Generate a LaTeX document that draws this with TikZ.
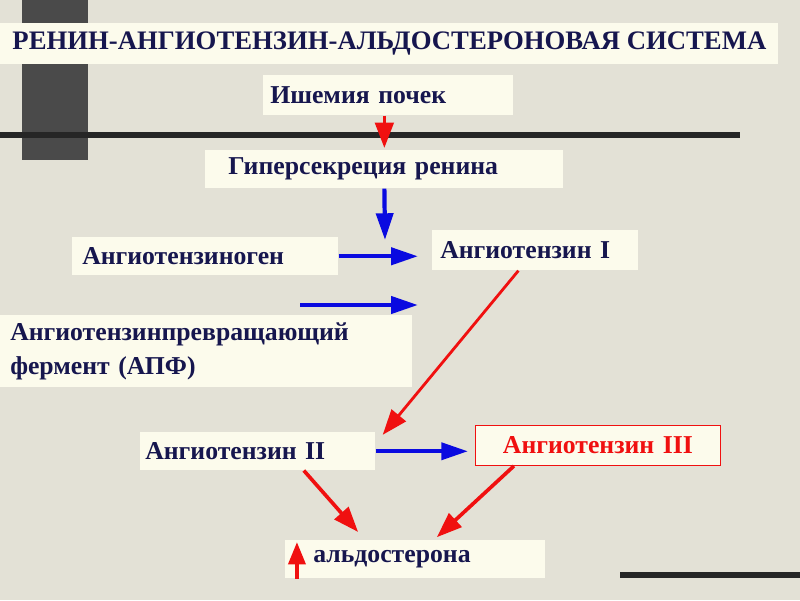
\documentclass[tikz,border=0pt]{standalone}
\usepackage{fontspec}
\setmainfont{Liberation Serif}
\usetikzlibrary{arrows.meta}
\definecolor{ground}{HTML}{E3E1D6}
\definecolor{cream}{HTML}{FCFBEC}
\definecolor{ink}{HTML}{16164E}
\definecolor{bargrey}{HTML}{4A4A4A}
\definecolor{redline}{HTML}{F01010}
\definecolor{blueline}{HTML}{0A0AE0}
\begin{document}
\begin{tikzpicture}[x=0.025cm, y=-0.025cm,
  font=\bfseries\fontsize{18.3}{24.2}\selectfont,
  plate/.style={anchor=north west, fill=cream, text=ink, inner ysep=0pt, align=left},
  redtip/.style={draw=redline, line width=2.6pt, -{Triangle[length=18pt, width=13pt]}},
  bluetip/.style={draw=blueline, line width=3pt, -{Triangle[length=19pt, width=12pt]}}]
  \useasboundingbox (0,0) rectangle (800,600);
  \fill[ground] (0,0) rectangle (800,600);
  \fill[bargrey] (22,0) rectangle (88,160);
  \fill[black!85] (0,132) rectangle (740,138);
  \fill[black!85] (620,572) rectangle (800,578);
  \node[plate, font=\bfseries\fontsize{19}{22}\selectfont, inner xsep=0pt, minimum width=553.4pt, minimum height=29.2pt]
    (title) at (0,23) {РЕНИН-АНГИОТЕНЗИН-АЛЬДОСТЕРОНОВАЯ СИСТЕМА};
  \node[plate, inner xsep=5pt, text width=167.9pt, minimum height=28.5pt] (isch) at (263,75) {Ишемия почек};
  \node[plate, inner xsep=16.4pt, text width=221.9pt, minimum height=27pt] (hyp) at (205,150) {Гиперсекреция ренина};
  \node[plate, inner xsep=7.1pt, text width=175pt, minimum height=27pt] (ang0) at (72,237) {Ангиотензиноген};
  \node[plate, inner xsep=5.7pt, text width=135.1pt, minimum height=28.5pt] (ang1) at (432,230) {Ангиотензин I};
  \node[plate, inner xsep=7.1pt, text width=278.8pt, minimum height=51.2pt] (ace) at (0,315)
    {Ангиотензинпревращающий\\фермент (АПФ)};
  \node[plate, inner xsep=3.6pt, text width=160pt, minimum height=27pt] (ang2) at (140,432) {Ангиотензин II};
  \node[plate, draw=redline, line width=0.6pt, text=redline, align=center, inner xsep=7.1pt, text width=160pt,
    minimum height=28.5pt] (ang3) at (475,425) {Ангиотензин III};
  \node[plate, inner xsep=19.9pt, text width=145pt, minimum height=27pt] (ald) at (285,540) {альдостерона};
  \coordinate (merge) at (385,240);
  \coordinate (enz) at (300,305);
  \draw[redtip] (hyp.north |- isch.south) -- ([yshift=1.4pt]hyp.north);
  \draw[bluetip] (hyp.south) -- (merge);
  \draw[bluetip, shorten >=10pt] (ang0.east) -- (ang1.west |- ang0.east);
  \draw[bluetip, shorten >=10pt] (enz) -- (enz -| ang1.west);
  \draw[redtip, line width=2pt] ([xshift=-12pt]ang1.south) -- ([xshift=5pt,yshift=-2pt]ang2.north east);
  \draw[bluetip, shorten >=5pt] (ang2.east) -- (ang3.west |- ang2.east);
  \draw[redtip] ([xshift=32.7pt]ang2.south) -- ([xshift=52pt,yshift=5.7pt]ald.north west);
  \draw[redtip] ([xshift=-59.7pt]ang3.south) -- ([xshift=108pt,yshift=2pt]ald.north west);
  \draw[redtip, line width=3pt, -{Triangle[length=16pt, width=12pt]}]
    ([xshift=8.5pt]ald.south west) -- ([xshift=8.5pt,yshift=-1.4pt]ald.north west);
\end{tikzpicture}
\end{document}
